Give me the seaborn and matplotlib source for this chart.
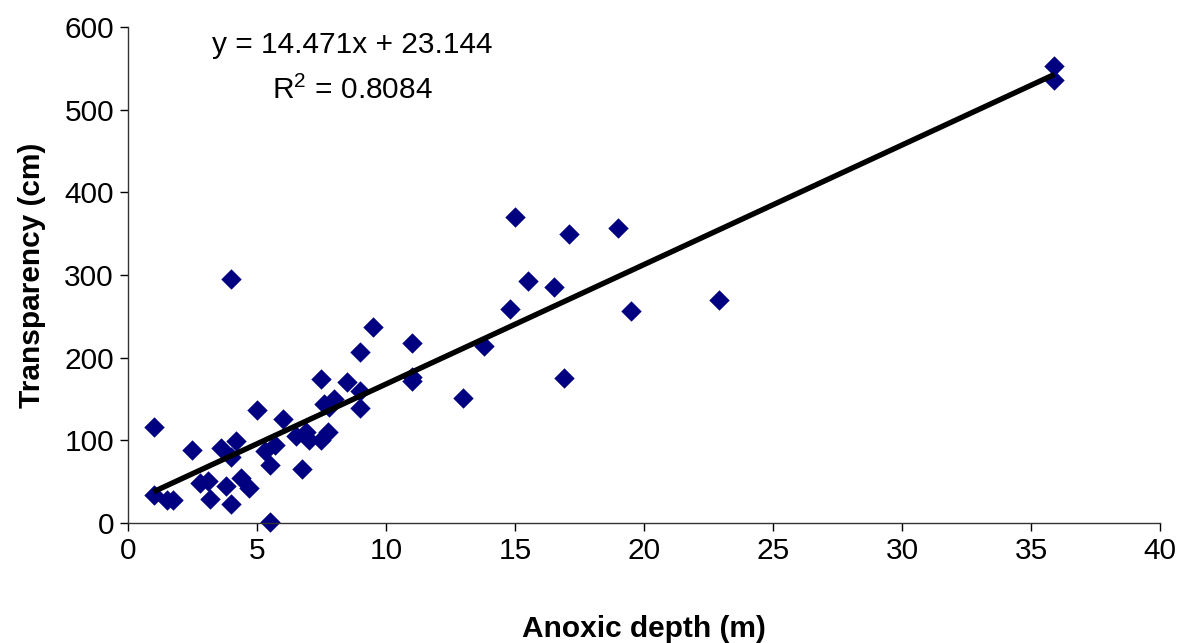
import numpy as np
import pandas as pd
import seaborn as sns
import matplotlib.pyplot as plt

# data
anoxic_depth = [1.0, 1.0, 1.5, 1.75, 2.5, 2.8, 3.1, 3.2, 3.6, 3.8,
                4.0, 4.0, 4.0, 4.2, 4.4, 4.7, 5.0, 5.3, 5.5, 5.5,
                5.7, 6.0, 6.5, 6.75, 6.9, 7.0, 7.5, 7.5, 7.6, 7.75,
                7.8, 8.0, 8.5, 9.0, 9.0, 9.0, 9.5, 11.0, 11.0, 11.0,
                13.0, 13.8, 14.8, 15.0, 15.5, 16.5, 16.9, 17.1, 19.0, 19.5,
                22.9, 35.9, 35.9]
transparency = [116, 33, 27, 27, 88, 48, 51, 29, 90, 44,
                295, 79, 23, 99, 54, 42, 137, 87, 70, 1,
                94, 126, 105, 65, 110, 100, 174, 100, 144, 110,
                140, 150, 170, 207, 139, 160, 237, 218, 177, 171,
                151, 214, 259, 370, 293, 285, 175, 350, 357, 256,
                270, 553, 536]
slope = 14.471
intercept = 23.144
r2 = 0.8084

df = pd.DataFrame({"x": anoxic_depth, "y": transparency})

sns.set_style("ticks")
plt.rcParams['font.family'] = ['Liberation Sans', 'DejaVu Sans']
plt.rcParams['mathtext.fontset'] = 'custom'
plt.rcParams['mathtext.rm'] = 'Liberation Sans'
plt.rcParams['text.color'] = 'black'
plt.rcParams['axes.labelcolor'] = 'black'
plt.rcParams['xtick.color'] = 'black'
plt.rcParams['ytick.color'] = 'black'

fig = plt.figure(figsize=(11.84, 6.43), dpi=100)
ax = fig.add_axes([0.108, 0.187, 0.872, 0.771])

sns.scatterplot(data=df, x="x", y="y", marker="D", s=108, color="#000080",
                linewidth=0, ax=ax, zorder=2, clip_on=False)

# trendline from the fitted equation
xl = np.array([min(anoxic_depth), max(anoxic_depth)])
ax.plot(xl, slope * xl + intercept, color="black", lw=3.9, zorder=3,
        solid_capstyle="butt")

ax.set_xlim(0, 40)
ax.set_ylim(0, 600)
ax.set_xticks(range(0, 41, 5))
ax.set_yticks(range(0, 601, 100))
ax.tick_params(labelsize=21.5, length=6, width=1, pad=4)
ax.set_xlabel("Anoxic depth (m)", fontsize=21.5, fontweight="bold", labelpad=36)
ax.set_ylabel("Transparency (cm)", fontsize=21.5, fontweight="bold", labelpad=13)
for s in ["top", "right"]:
    ax.spines[s].set_visible(False)
for s in ["left", "bottom"]:
    ax.spines[s].set_color("#333333")
    ax.spines[s].set_linewidth(1)

ax.text(352 / 1184, 1 - 45 / 643, f"y = {slope}x + {intercept}", transform=fig.transFigure,
        ha="center", va="center", fontsize=21.5)
ax.text(352 / 1184, 1 - 90 / 643, f"R$^2$ = {r2}", transform=fig.transFigure,
        ha="center", va="center", fontsize=21.5)

fig.savefig("out.png", dpi=100)
